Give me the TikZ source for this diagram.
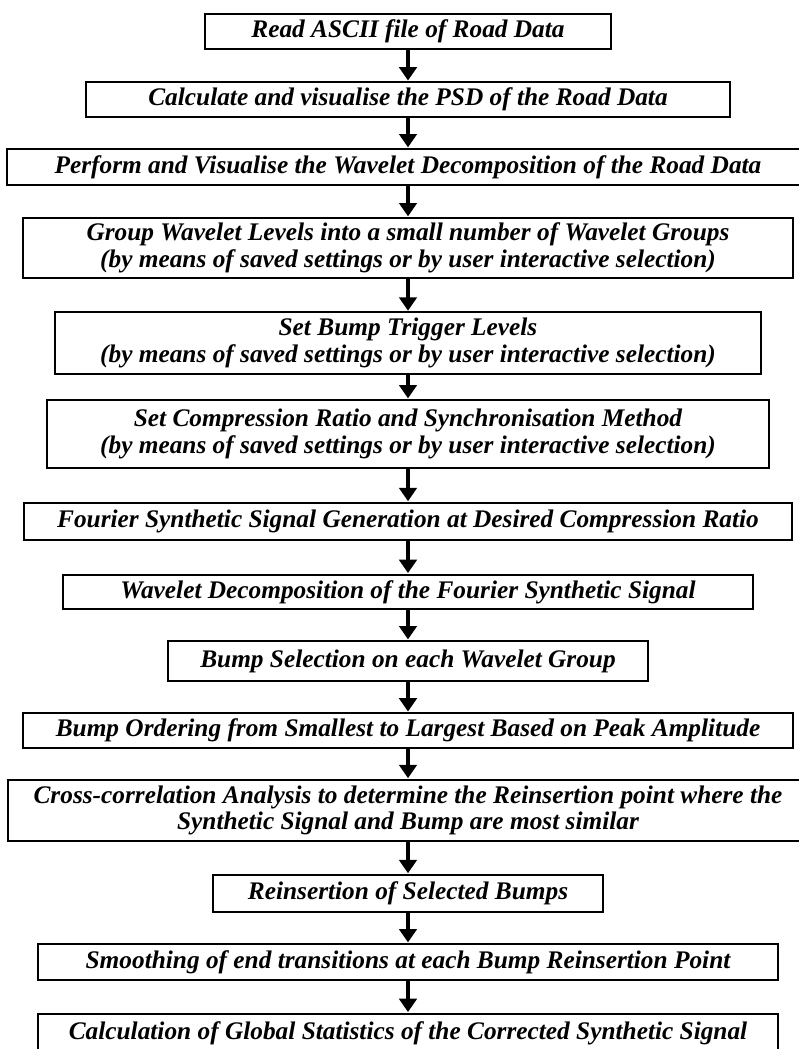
\documentclass[tikz,border=0pt]{standalone}
\usepackage{fontspec}
\setmainfont{Liberation Serif}
\usepackage{tikz}
\usetikzlibrary{arrows.meta}

\tikzset{
  stepbox/.style={draw=black, line width=1.4pt, inner sep=0pt, align=center,
    font=\fontsize{19}{20}\selectfont\bfseries\itshape},
  flowarrow/.style={draw=black, line width=3.4pt, -{Triangle[width=13pt,length=10pt]}, shorten >=0.5pt}
}

\begin{document}
\begin{tikzpicture}[x=0.75pt, y=-0.75pt]
  \useasboundingbox (0,0) rectangle (799,1049);
  \clip (0,0) rectangle (799,1049);

  % Road data input and analysis
  \node[stepbox, minimum width=304pt, minimum height=26pt] (read) at (408, 31.5) {Read ASCII file of Road Data};
  \node[stepbox, minimum width=483pt, minimum height=26pt] (psd) at (408, 99.5) {Calculate and visualise the PSD of the Road Data};
  \node[stepbox, minimum width=601pt, minimum height=27pt] (wavdec) at (408, 167) {Perform and Visualise the Wavelet Decomposition of the Road Data};

  % User settings
  \node[stepbox, minimum width=577pt, minimum height=45pt] (group) at (408, 248) {Group Wavelet Levels into a small number of Wavelet Groups\\(by means of saved settings or by user interactive selection)};
  \node[stepbox, minimum width=530pt, minimum height=46pt] (trigger) at (408, 343) {Set Bump Trigger Levels\\(by means of saved settings or by user interactive selection)};
  \node[stepbox, minimum width=542pt, minimum height=51pt] (ratio) at (408, 434) {Set Compression Ratio and Synchronisation Method\\(by means of saved settings or by user interactive selection)};

  % Synthetic signal and bumps
  \node[stepbox, minimum width=576pt, minimum height=28pt] (fourier) at (408, 521.5) {Fourier Synthetic Signal Generation at Desired Compression Ratio};
  \node[stepbox, minimum width=518pt, minimum height=26pt] (syndec) at (408, 592) {Wavelet Decomposition of the Fourier Synthetic Signal};
  \node[stepbox, minimum width=360pt, minimum height=30pt] (select) at (408, 661) {Bump Selection on each Wavelet Group};
  \node[stepbox, minimum width=578pt, minimum height=26pt] (order) at (408, 730.5) {Bump Ordering from Smallest to Largest Based on Peak Amplitude};
  \node[stepbox, minimum width=600pt, minimum height=46pt] (xcorr) at (408, 810.5) {Cross-correlation Analysis to determine the Reinsertion point where the\\Synthetic Signal and Bump are most similar};
  \node[stepbox, minimum width=292pt, minimum height=28pt] (reins) at (408, 893.5) {Reinsertion of Selected Bumps};
  \node[stepbox, minimum width=555pt, minimum height=27pt] (smooth) at (408, 962) {Smoothing of end transitions at each Bump Reinsertion Point};
  \node[stepbox, minimum width=555pt, minimum height=29pt] (stats) at (408, 1033) {Calculation of Global Statistics of the Corrected Synthetic Signal};

  % Arrows
  \draw[flowarrow] (read) -- (psd);
  \draw[flowarrow] (psd) -- (wavdec);
  \draw[flowarrow] (wavdec) -- (group);
  \draw[flowarrow] (group) -- (trigger);
  \draw[flowarrow] (trigger) -- (ratio);
  \draw[flowarrow] (ratio) -- (fourier);
  \draw[flowarrow] (fourier) -- (syndec);
  \draw[flowarrow] (syndec) -- (select);
  \draw[flowarrow] (select) -- (order);
  \draw[flowarrow] (order) -- (xcorr);
  \draw[flowarrow] (xcorr) -- (reins);
  \draw[flowarrow] (reins) -- (smooth);
  \draw[flowarrow] (smooth) -- (stats);
\end{tikzpicture}
\end{document}
